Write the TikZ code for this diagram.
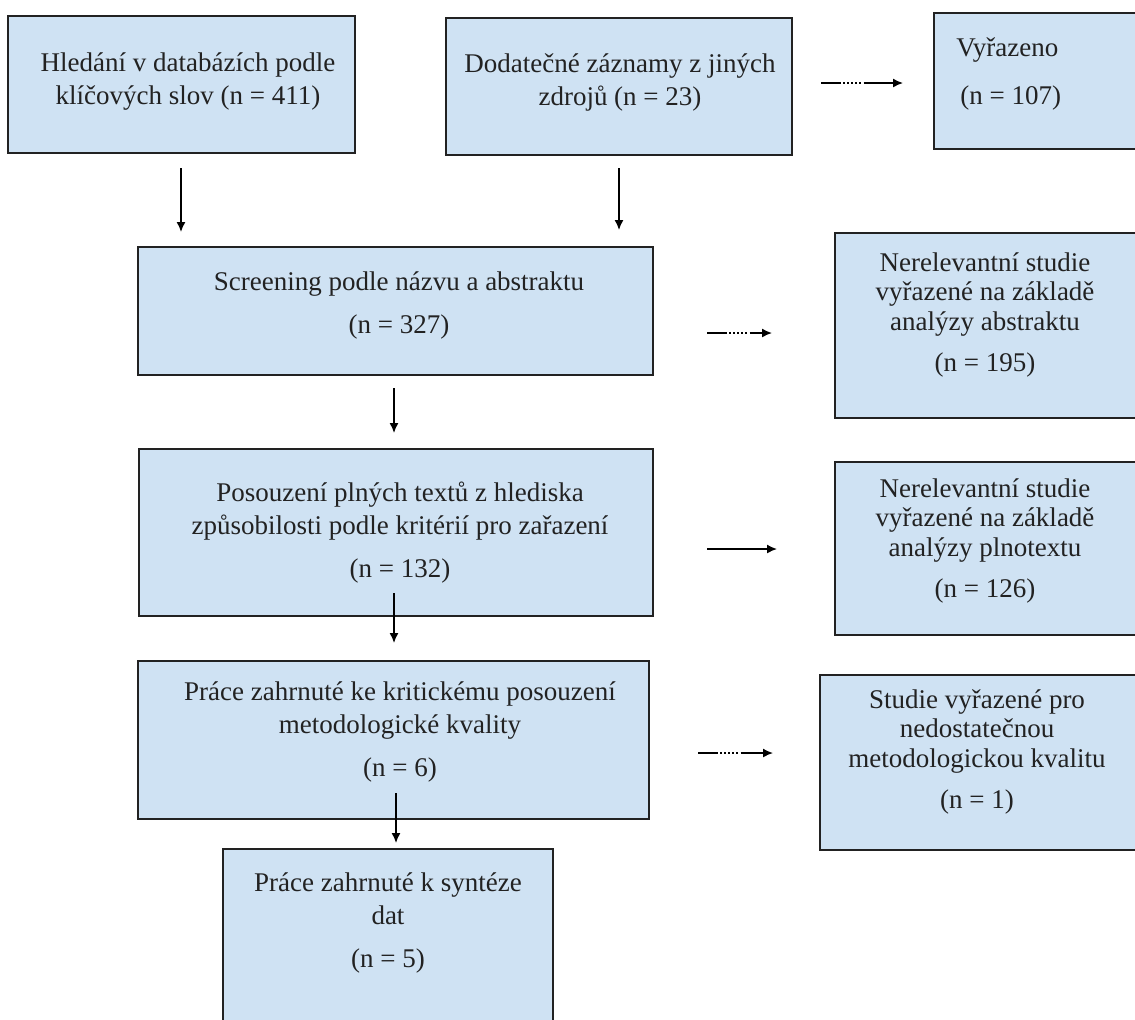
\documentclass[tikz,border=0pt]{standalone}
\usepackage{fontspec}
\setmainfont{Liberation Serif}
\usetikzlibrary{arrows.meta}
\definecolor{boxblue}{RGB}{207,226,243}
\definecolor{inkgray}{RGB}{34,34,34}
\tikzset{
    box/.style={draw=inkgray, fill=boxblue, line width=1pt, inner sep=0pt, outer sep=0pt},
    txt/.style={align=center, text=inkgray, inner sep=0pt, font=\fontsize{13.5}{16.5}\selectfont},
    sidetxt/.style={txt, font=\fontsize{13.5}{14.8}\selectfont},
    flow/.style={line width=0.75pt, -{Latex[length=5pt,width=4.5pt]}},
    gapflow/.style={flow, dash pattern=on 10pt off 1pt on 0.8pt off 1.2pt on 0.8pt off 1.2pt on 0.8pt off 1.2pt on 0.8pt off 1.2pt on 0.8pt off 1.5pt on 40pt}
}
\begin{document}
\begin{tikzpicture}[x=0.5pt, y=-0.5pt]
    \useasboundingbox (0,0) rectangle (1135,1019);
    \clip (0,0) rectangle (1135,1019);
    % boxes
    \node[box, minimum width=173.5pt, minimum height=68.5pt] (srch) at (181.5,84.5) {};
    \node[box, minimum width=173pt, minimum height=68.5pt] (othr) at (619,86.5) {};
    \node[box, minimum width=105.5pt, minimum height=68pt] (excl) at (1039.5,81) {};
    \node[box, minimum width=257.5pt, minimum height=64pt] (scrn) at (395.5,311) {};
    \node[box, minimum width=155pt, minimum height=92.5pt] (abst) at (990,325.5) {};
    \node[box, minimum width=257pt, minimum height=83.5pt] (full) at (396,532.5) {};
    \node[box, minimum width=155pt, minimum height=86.5pt] (fult) at (990,548.5) {};
    \node[box, minimum width=255.5pt, minimum height=79pt] (qual) at (393.5,740) {};
    \node[box, minimum width=162.5pt, minimum height=87.5pt] (qulx) at (982.5,762.5) {};
    \node[box, minimum width=165pt, minimum height=90.5pt] (synt) at (388,939.5) {};
    % texts
    \node[txt] (srchT) at (188,82) {Hledání v databázích podle\\klíčových slov (n = 411)};
    \node[txt] (othrT) at (620,82) {Dodatečné záznamy z jiných\\zdrojů (n = 23)};
    \node[txt, align=left, anchor=west] (exclT) at (956,74) {Vyřazeno\\[7.5pt]\hspace{2pt}(n = 107)};
    \node[txt] (scrnT) at (399,305) {Screening podle názvu a abstraktu\\[5pt](n = 327)};
    \node[sidetxt] (abstT) at (985,315) {Nerelevantní studie\\vyřazené na základě\\analýzy abstraktu\\[6pt](n = 195)};
    \node[sidetxt] (fultT) at (985,541) {Nerelevantní studie\\vyřazené na základě\\analýzy plnotextu\\[6pt](n = 126)};
    \node[txt] (fullT) at (400,533) {Posouzení plných textů z hlediska\\způsobilosti podle kritérií pro zařazení\\[5pt](n = 132)};
    \node[txt] (qualT) at (400,732) {Práce zahrnuté ke kritickému posouzení\\metodologické kvality\\[5pt](n = 6)};
    \node[sidetxt] (qulxT) at (977,752) {Studie vyřazené pro\\nedostatečnou\\metodologickou kvalitu\\[6pt](n = 1)};
    \node[txt] (syntT) at (388,923) {Práce zahrnuté k syntéze\\dat\\[5pt](n = 5)};
    % arrow ends
    \coordinate (srchA) at (181,168);
    \coordinate (srchB) at (181,232);
    \coordinate (othrA) at (619,168);
    \coordinate (othrB) at (619,230);
    \coordinate (exclA) at (821,83);
    \coordinate (exclB) at (903,83);
    \coordinate (scrnA) at (394,388);
    \coordinate (scrnB) at (394,433);
    \coordinate (abstA) at (707,333);
    \coordinate (abstB) at (772,333);
    \coordinate (fullA) at (394,593);
    \coordinate (fullB) at (394,643);
    \coordinate (fultA) at (707,549);
    \coordinate (fultB) at (777,549);
    \coordinate (qualA) at (396,793);
    \coordinate (qualB) at (396,843);
    \coordinate (qulxA) at (698,753);
    \coordinate (qulxB) at (773,753);
    % arrows
    \draw[flow] (srchA) -- (srchB);
    \draw[flow] (othrA) -- (othrB);
    \draw[gapflow] (exclA) -- (exclB);
    \draw[flow] (scrnA) -- (scrnB);
    \draw[gapflow] (abstA) -- (abstB);
    \draw[flow] (fullA) -- (fullB);
    \draw[flow] (fultA) -- (fultB);
    \draw[flow] (qualA) -- (qualB);
    \draw[gapflow] (qulxA) -- (qulxB);
\end{tikzpicture}
\end{document}
